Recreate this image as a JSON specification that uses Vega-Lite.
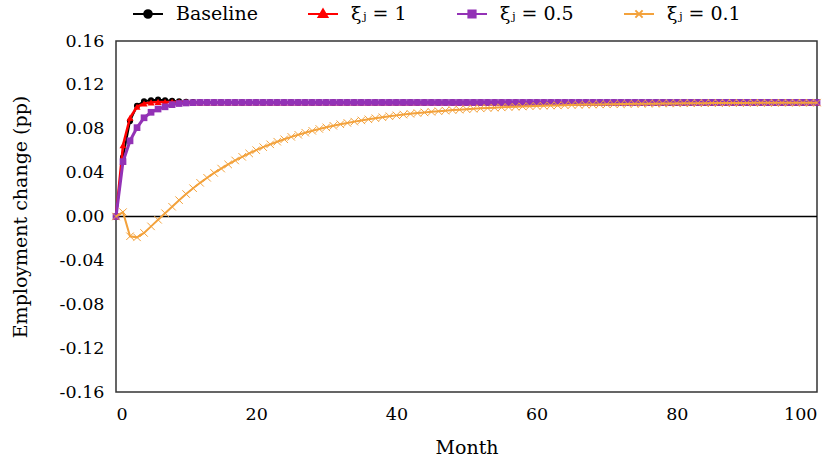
{
  "$schema": "https://vega.github.io/schema/vega-lite/v6.json",
  "width": 701,
  "height": 351,
  "padding": {"left": 11, "top": 3, "right": 0, "bottom": 5},
  "background": "white",
  "config": {
    "view": {"stroke": "#333333", "strokeWidth": 1.5},
    "font": "DejaVu Serif",
    "axis": {
      "grid": false,
      "ticks": false,
      "domain": false,
      "labelFont": "DejaVu Serif",
      "titleFont": "DejaVu Serif",
      "labelFontSize": 17.5,
      "labelColor": "#000000",
      "titleFontSize": 19,
      "titleFontWeight": "normal",
      "titleColor": "#000000"
    },
    "legend": {
      "labelFont": "DejaVu Serif",
      "labelFontSize": 19,
      "labelColor": "#000000"
    }
  },
  "data": {
    "values": [
      {"m": 0, "a": 0, "b": 0, "c": 0, "d": 0},
      {"m": 1, "a": 0.054, "b": 0.065, "c": 0.050, "d": 0.004},
      {"m": 2, "a": 0.087, "b": 0.090, "c": 0.069, "d": -0.018},
      {"m": 3, "a": 0.101, "b": 0.100, "c": 0.081, "d": -0.019},
      {"m": 4, "a": 0.105, "b": 0.103, "c": 0.090, "d": -0.015},
      {"m": 5, "a": 0.106, "b": 0.104, "c": 0.095, "d": -0.009},
      {"m": 6, "a": 0.1065, "b": 0.1045, "c": 0.098, "d": -0.003},
      {"m": 7, "a": 0.106, "b": 0.1045, "c": 0.100, "d": 0.003},
      {"m": 8, "a": 0.1055, "b": 0.1045, "c": 0.102, "d": 0.0089},
      {"m": 9, "a": 0.105, "b": 0.1045, "c": 0.103, "d": 0.0149},
      {"m": 10, "a": 0.1045, "b": 0.1043, "c": 0.1035, "d": 0.0205},
      {"m": 11, "a": 0.1042, "b": 0.1042, "c": 0.1038, "d": 0.0258},
      {"m": 12, "a": 0.104, "b": 0.1041, "c": 0.104, "d": 0.0307},
      {"m": 13, "a": 0.104, "b": 0.104, "c": 0.104, "d": 0.0353},
      {"m": 14, "a": 0.104, "b": 0.104, "c": 0.104, "d": 0.0397},
      {"m": 15, "a": 0.104, "b": 0.104, "c": 0.104, "d": 0.0437},
      {"m": 16, "a": 0.104, "b": 0.104, "c": 0.104, "d": 0.0475},
      {"m": 17, "a": 0.104, "b": 0.104, "c": 0.104, "d": 0.0511},
      {"m": 18, "a": 0.104, "b": 0.104, "c": 0.104, "d": 0.0544},
      {"m": 19, "a": 0.104, "b": 0.104, "c": 0.104, "d": 0.0575},
      {"m": 20, "a": 0.104, "b": 0.104, "c": 0.104, "d": 0.0605},
      {"m": 21, "a": 0.104, "b": 0.104, "c": 0.104, "d": 0.0632},
      {"m": 22, "a": 0.104, "b": 0.104, "c": 0.104, "d": 0.0658},
      {"m": 23, "a": 0.104, "b": 0.104, "c": 0.104, "d": 0.0682},
      {"m": 24, "a": 0.104, "b": 0.104, "c": 0.104, "d": 0.0704},
      {"m": 25, "a": 0.104, "b": 0.104, "c": 0.104, "d": 0.0726},
      {"m": 26, "a": 0.104, "b": 0.104, "c": 0.104, "d": 0.0745},
      {"m": 27, "a": 0.104, "b": 0.104, "c": 0.104, "d": 0.0764},
      {"m": 28, "a": 0.104, "b": 0.104, "c": 0.104, "d": 0.0781},
      {"m": 29, "a": 0.104, "b": 0.104, "c": 0.104, "d": 0.0798},
      {"m": 30, "a": 0.104, "b": 0.104, "c": 0.104, "d": 0.0813},
      {"m": 31, "a": 0.104, "b": 0.104, "c": 0.104, "d": 0.0827},
      {"m": 32, "a": 0.104, "b": 0.104, "c": 0.104, "d": 0.0841},
      {"m": 33, "a": 0.104, "b": 0.104, "c": 0.104, "d": 0.0853},
      {"m": 34, "a": 0.104, "b": 0.104, "c": 0.104, "d": 0.0865},
      {"m": 35, "a": 0.104, "b": 0.104, "c": 0.104, "d": 0.0876},
      {"m": 36, "a": 0.104, "b": 0.104, "c": 0.104, "d": 0.0886},
      {"m": 37, "a": 0.104, "b": 0.104, "c": 0.104, "d": 0.0896},
      {"m": 38, "a": 0.104, "b": 0.104, "c": 0.104, "d": 0.0905},
      {"m": 39, "a": 0.104, "b": 0.104, "c": 0.104, "d": 0.0914},
      {"m": 40, "a": 0.104, "b": 0.104, "c": 0.104, "d": 0.0922},
      {"m": 41, "a": 0.104, "b": 0.104, "c": 0.104, "d": 0.0929},
      {"m": 42, "a": 0.104, "b": 0.104, "c": 0.104, "d": 0.0936},
      {"m": 43, "a": 0.104, "b": 0.104, "c": 0.104, "d": 0.0943},
      {"m": 44, "a": 0.104, "b": 0.104, "c": 0.104, "d": 0.0949},
      {"m": 45, "a": 0.104, "b": 0.104, "c": 0.104, "d": 0.0954},
      {"m": 46, "a": 0.104, "b": 0.104, "c": 0.104, "d": 0.0960},
      {"m": 47, "a": 0.104, "b": 0.104, "c": 0.104, "d": 0.0965},
      {"m": 48, "a": 0.104, "b": 0.104, "c": 0.104, "d": 0.0970},
      {"m": 49, "a": 0.104, "b": 0.104, "c": 0.104, "d": 0.0974},
      {"m": 50, "a": 0.104, "b": 0.104, "c": 0.104, "d": 0.0978},
      {"m": 51, "a": 0.104, "b": 0.104, "c": 0.104, "d": 0.0982},
      {"m": 52, "a": 0.104, "b": 0.104, "c": 0.104, "d": 0.0986},
      {"m": 53, "a": 0.104, "b": 0.104, "c": 0.104, "d": 0.0989},
      {"m": 54, "a": 0.104, "b": 0.104, "c": 0.104, "d": 0.0992},
      {"m": 55, "a": 0.104, "b": 0.104, "c": 0.104, "d": 0.0995},
      {"m": 56, "a": 0.104, "b": 0.104, "c": 0.104, "d": 0.0998},
      {"m": 57, "a": 0.104, "b": 0.104, "c": 0.104, "d": 0.1001},
      {"m": 58, "a": 0.104, "b": 0.104, "c": 0.104, "d": 0.1003},
      {"m": 59, "a": 0.104, "b": 0.104, "c": 0.104, "d": 0.1006},
      {"m": 60, "a": 0.104, "b": 0.104, "c": 0.104, "d": 0.1008},
      {"m": 61, "a": 0.104, "b": 0.104, "c": 0.104, "d": 0.1010},
      {"m": 62, "a": 0.104, "b": 0.104, "c": 0.104, "d": 0.1012},
      {"m": 63, "a": 0.104, "b": 0.104, "c": 0.104, "d": 0.1013},
      {"m": 64, "a": 0.104, "b": 0.104, "c": 0.104, "d": 0.1015},
      {"m": 65, "a": 0.104, "b": 0.104, "c": 0.104, "d": 0.1017},
      {"m": 66, "a": 0.104, "b": 0.104, "c": 0.104, "d": 0.1018},
      {"m": 67, "a": 0.104, "b": 0.104, "c": 0.104, "d": 0.1020},
      {"m": 68, "a": 0.104, "b": 0.104, "c": 0.104, "d": 0.1021},
      {"m": 69, "a": 0.104, "b": 0.104, "c": 0.104, "d": 0.1022},
      {"m": 70, "a": 0.104, "b": 0.104, "c": 0.104, "d": 0.1023},
      {"m": 71, "a": 0.104, "b": 0.104, "c": 0.104, "d": 0.1024},
      {"m": 72, "a": 0.104, "b": 0.104, "c": 0.104, "d": 0.1025},
      {"m": 73, "a": 0.104, "b": 0.104, "c": 0.104, "d": 0.1026},
      {"m": 74, "a": 0.104, "b": 0.104, "c": 0.104, "d": 0.1027},
      {"m": 75, "a": 0.104, "b": 0.104, "c": 0.104, "d": 0.1028},
      {"m": 76, "a": 0.104, "b": 0.104, "c": 0.104, "d": 0.1029},
      {"m": 77, "a": 0.104, "b": 0.104, "c": 0.104, "d": 0.1029},
      {"m": 78, "a": 0.104, "b": 0.104, "c": 0.104, "d": 0.1030},
      {"m": 79, "a": 0.104, "b": 0.104, "c": 0.104, "d": 0.1031},
      {"m": 80, "a": 0.104, "b": 0.104, "c": 0.104, "d": 0.1031},
      {"m": 81, "a": 0.104, "b": 0.104, "c": 0.104, "d": 0.1032},
      {"m": 82, "a": 0.104, "b": 0.104, "c": 0.104, "d": 0.1032},
      {"m": 83, "a": 0.104, "b": 0.104, "c": 0.104, "d": 0.1033},
      {"m": 84, "a": 0.104, "b": 0.104, "c": 0.104, "d": 0.1033},
      {"m": 85, "a": 0.104, "b": 0.104, "c": 0.104, "d": 0.1034},
      {"m": 86, "a": 0.104, "b": 0.104, "c": 0.104, "d": 0.1034},
      {"m": 87, "a": 0.104, "b": 0.104, "c": 0.104, "d": 0.1034},
      {"m": 88, "a": 0.104, "b": 0.104, "c": 0.104, "d": 0.1035},
      {"m": 89, "a": 0.104, "b": 0.104, "c": 0.104, "d": 0.1035},
      {"m": 90, "a": 0.104, "b": 0.104, "c": 0.104, "d": 0.1035},
      {"m": 91, "a": 0.104, "b": 0.104, "c": 0.104, "d": 0.1036},
      {"m": 92, "a": 0.104, "b": 0.104, "c": 0.104, "d": 0.1036},
      {"m": 93, "a": 0.104, "b": 0.104, "c": 0.104, "d": 0.1036},
      {"m": 94, "a": 0.104, "b": 0.104, "c": 0.104, "d": 0.1036},
      {"m": 95, "a": 0.104, "b": 0.104, "c": 0.104, "d": 0.1037},
      {"m": 96, "a": 0.104, "b": 0.104, "c": 0.104, "d": 0.1037},
      {"m": 97, "a": 0.104, "b": 0.104, "c": 0.104, "d": 0.1037},
      {"m": 98, "a": 0.104, "b": 0.104, "c": 0.104, "d": 0.1037},
      {"m": 99, "a": 0.104, "b": 0.104, "c": 0.104, "d": 0.1037},
      {"m": 100, "a": 0.104, "b": 0.104, "c": 0.104, "d": 0.1038}
    ]
  },
  "transform": [{"fold": ["a", "b", "c", "d"], "as": ["k", "v"]}],
  "layer": [
    {
      "transform": [{"filter": "datum.k == 'a' && datum.m == 0"}],
      "mark": {"type": "rule", "color": "#000000", "strokeWidth": 1.5},
      "encoding": {"y": {"datum": 0, "type": "quantitative"}}
    },
    {
      "transform": [{"filter": "datum.k == 'a'"}],
      "mark": {"type": "line", "strokeWidth": 2, "point": {"filled": true, "shape": "circle", "size": 38}},
      "encoding": {
        "x": {
          "field": "m", "type": "quantitative",
          "scale": {"domain": [0, 100], "nice": false},
          "axis": {"values": [0, 20, 40, 60, 80, 100], "title": "Month", "labelPadding": 13, "titlePadding": 16}
        },
        "y": {
          "field": "v", "type": "quantitative",
          "scale": {"domain": [-0.16, 0.16], "nice": false},
          "axis": {
            "values": [-0.16, -0.12, -0.08, -0.04, 0, 0.04, 0.08, 0.12, 0.16],
            "labelExpr": "replace(format(datum.value, '.2f'), '\u2212', '-')",
            "title": "Employment change (pp)",
            "labelPadding": 12,
            "titlePadding": 29
          }
        },
        "color": {
          "field": "k", "type": "nominal",
          "scale": {"domain": ["a", "b", "c", "d"], "range": ["#000000", "#ff0000", "#9332b6", "#f3a23c"]},
          "legend": {
            "orient": "none",
            "legendX": 21,
            "legendY": -38,
            "direction": "horizontal",
            "title": null,
            "symbolSize": 400,
            "symbolStrokeWidth": 2,
            "labelOffset": 17,
            "columnPadding": 46,
            "labelExpr": "datum.value == 'a' ? 'Baseline' : datum.value == 'b' ? 'ξⱼ = 1' : datum.value == 'c' ? 'ξⱼ = 0.5' : 'ξⱼ = 0.1'",
            "encode": {
              "symbols": {
                "update": {
                  "shape": {"signal": "datum.value == 'a' ? 'M-1.5,0H1.5M-0.38,0A0.38,0.38 0 1,0 0.38,0A0.38,0.38 0 1,0 -0.38,0Z' : datum.value == 'b' ? 'M-1.5,0H1.5M0,-0.46L0.44,0.3L-0.44,0.3Z' : datum.value == 'c' ? 'M-1.5,0H1.5M-0.36,-0.36H0.36V0.36H-0.36Z' : 'M-1.5,0H1.5M-0.36,-0.36L0.36,0.36M-0.36,0.36L0.36,-0.36'"},
                  "fill": {"scale": "color", "field": "value"},
                  "stroke": {"scale": "color", "field": "value"}
                }
              }
            }
          }
        }
      }
    },
    {
      "transform": [{"filter": "datum.k == 'b'"}],
      "mark": {"type": "line", "strokeWidth": 2.5, "point": {"filled": true, "shape": "triangle-up", "size": 50}},
      "encoding": {
        "x": {"field": "m", "type": "quantitative"},
        "y": {"field": "v", "type": "quantitative"},
        "color": {"field": "k", "type": "nominal", "legend": null}
      }
    },
    {
      "transform": [{"filter": "datum.k == 'c'"}],
      "mark": {"type": "line", "strokeWidth": 3, "point": {"filled": true, "shape": "square", "size": 45}},
      "encoding": {
        "x": {"field": "m", "type": "quantitative"},
        "y": {"field": "v", "type": "quantitative"},
        "color": {"field": "k", "type": "nominal", "legend": null}
      }
    },
    {
      "transform": [{"filter": "datum.k == 'd'"}],
      "mark": {"type": "line", "strokeWidth": 2, "point": {"filled": false, "shape": "M-1,-1L1,1M-1,1L1,-1", "size": 56, "strokeWidth": 1}},
      "encoding": {
        "x": {"field": "m", "type": "quantitative"},
        "y": {"field": "v", "type": "quantitative"},
        "color": {"field": "k", "type": "nominal", "legend": null}
      }
    }
  ]
}
